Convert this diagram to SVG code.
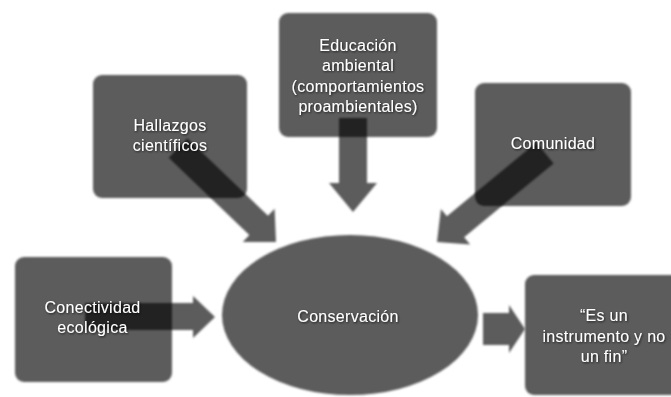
<svg xmlns="http://www.w3.org/2000/svg" width="671" height="397" viewBox="0 0 671 397">
  <defs>
    <filter id="soft" x="-10%" y="-10%" width="120%" height="120%">
      <feGaussianBlur stdDeviation="1.3"/>
    </filter>
    <filter id="tshadow" x="-10%" y="-20%" width="120%" height="150%">
      <feDropShadow dx="0.8" dy="1" stdDeviation="0.9" flood-color="#000" flood-opacity="0.7"/>
    </filter>
  </defs>
  <style>
    .box { fill: #5b5b5b; filter: url(#soft); mix-blend-mode: multiply; }
    .arrow { fill: #5b5b5b; filter: url(#soft); }
    .lbl { fill: #ffffff; font-family: "Liberation Sans", Arial, sans-serif; font-size: 16px; letter-spacing: 0.3px; text-anchor: middle; filter: url(#tshadow); }
  </style>
  <rect width="671" height="397" fill="#ffffff"/>

  <g id="connectors">
    <polygon class="arrow" points="168.7,157.7 249.3,235.1 242.8,242 276,242 274.6,208.8 268,215.7 187.3,138.3"/>
    <polygon class="arrow" points="339,118 339,183 329,183 353,212 377,183 367,183 367,118"/>
    <polygon class="arrow" points="536.4,142.6 446.9,216.3 440.9,209 437,242 470.2,244.5 464.1,237.2 553.6,163.4"/>
    <polygon class="arrow" points="85,303 193,303 193,296 215,317 193,338 193,330 85,330"/>
    <polygon class="arrow" points="483,313 509,313 509,305 525,329 509,353 509,345 483,345"/>
  </g>

  <g id="hallazgos">
    <rect class="box" x="93" y="75" width="154" height="123" rx="9"/>
    <text class="lbl" x="170" y="131">Hallazgos</text>
    <text class="lbl" x="170" y="151">científicos</text>
  </g>

  <g id="educacion">
    <rect class="box" x="279" y="13" width="158" height="124" rx="9"/>
    <text class="lbl" x="358" y="50.5">Educación</text>
    <text class="lbl" x="358" y="71">ambiental</text>
    <text class="lbl" x="358" y="91.5">(comportamientos</text>
    <text class="lbl" x="358" y="112">proambientales)</text>
  </g>

  <g id="comunidad">
    <rect class="box" x="475" y="83" width="156" height="123" rx="9"/>
    <text class="lbl" x="553" y="149">Comunidad</text>
  </g>

  <g id="conectividad">
    <rect class="box" x="15" y="257" width="157" height="125" rx="9"/>
    <text class="lbl" x="92.5" y="313">Conectividad</text>
    <text class="lbl" x="92.5" y="332.5">ecológica</text>
  </g>

  <g id="conservacion">
    <ellipse class="box" cx="350" cy="315" rx="128" ry="80"/>
    <text class="lbl" x="348" y="322">Conservación</text>
  </g>

  <g id="instrumento">
    <rect class="box" x="525" y="275" width="157" height="120" rx="9"/>
    <text class="lbl" x="604" y="321">“Es un</text>
    <text class="lbl" x="604" y="341.5">instrumento y no</text>
    <text class="lbl" x="604" y="362">un fin”</text>
  </g>
</svg>
